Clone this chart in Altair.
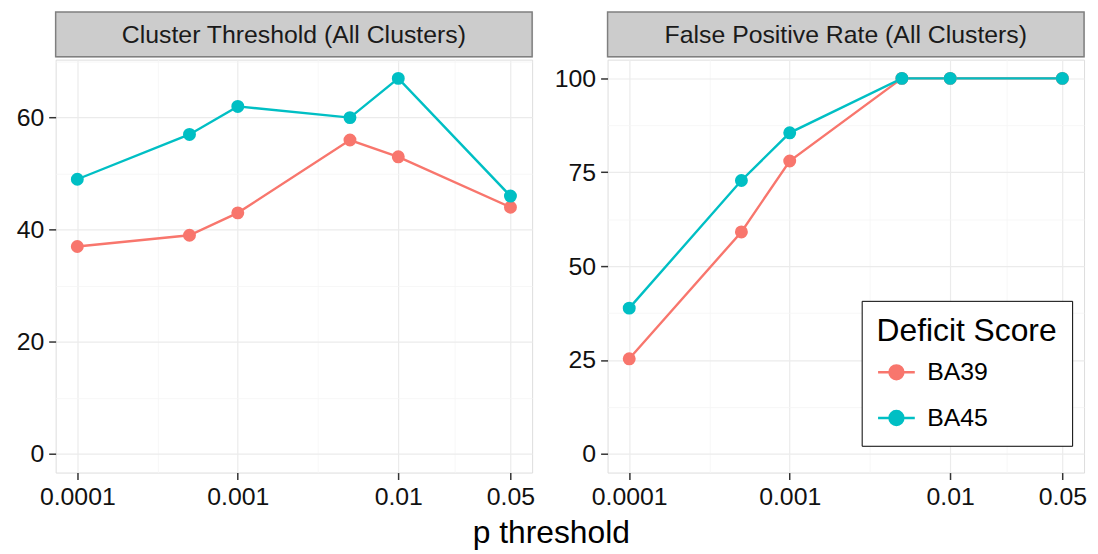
import altair as alt
import pandas as pd

p_values = [0.0001, 0.0005, 0.001, 0.005, 0.01, 0.05]
groups = ["BA39", "BA45"]
thresh_ba39 = [37, 39, 43, 56, 53, 44]
thresh_ba45 = [49, 57, 62, 60, 67, 46]
fpr_ba39 = [25.3, 59.1, 78.0, 100, 100, 100]
fpr_ba45 = [38.8, 72.8, 85.5, 100, 100, 100]
panel_titles = ["Cluster Threshold (All Clusters)", "False Positive Rate (All Clusters)"]
colors = ["#F8766D", "#00BFC4"]

x_major = [0.0001, 0.001, 0.01, 0.05]
x_minor = [0.000316228, 0.00316228, 0.0223607]
x_domain = [10 ** -4.135, 10 ** -1.166]
y1_major = [0, 20, 40, 60]
y1_minor = [10, 30, 50, 70]
y1_domain = [-3.35, 70.35]
y2_major = [0, 25, 50, 75, 100]
y2_minor = [12.5, 37.5, 62.5, 87.5]
y2_domain = [-5, 105]

FONT = "Liberation Sans"
W, H, SH = 480, 416, 45


def long_df(a, b):
    rows = []
    for g, vals in zip(groups, [a, b]):
        for p, v in zip(p_values, vals):
            rows.append({"p": p, "value": v, "group": g})
    return pd.DataFrame(rows)


def cond(majors, on, off):
    test = "indexof([" + ",".join(str(m) for m in majors) + "], datum.value) >= 0"
    return {"condition": {"test": test, "value": on}, "value": off}


def label_expr(majors):
    return "indexof([" + ",".join(str(m) for m in majors) + "], datum.value) >= 0 ? '' + datum.value : ''"


sym_path = "M-1,0H1M0.38,0A0.38,0.38,0,1,1,-0.38,0A0.38,0.38,0,1,1,0.38,0Z"

legend = alt.Legend(
    title="Deficit Score",
    orient="none",
    legendX=812,
    legendY=291,
    symbolType=sym_path,
    symbolSize=1369,
    symbolStrokeWidth=2.4,
    symbolOpacity=1,
    labelOffset=11,
    padding=15,
    rowPadding=13,
    titleFontSize=32,
    titleFont=FONT,
    titleFontWeight="normal",
    titleColor="#000000",
    titlePadding=5,
    titleLimit=400,
    labelFontSize=25,
    labelFont=FONT,
    labelColor="#000000",
    strokeColor="#000000",
    fillColor="#FFFFFF",
    cornerRadius=0,
)


def axis(majors, minors, title=None):
    return alt.Axis(
        values=majors + minors,
        labelExpr=label_expr(majors),
        title=title,
        domain=False,
        tickSize=7,
        tickWidth=1.5,
        tickColor="#333333",
        tickOpacity=cond(majors, 1, 0),
        gridColor=cond(majors, "#EBEBEB", "#F5F5F5"),
        gridWidth=cond(majors, 1.2, 0.8),
        labelFont=FONT,
        labelFontSize=25,
        labelColor="#111111",
        labelPadding=5,
    )


def panel(df, ymaj, ymin, ydom):
    base = alt.Chart(df).encode(
        x=alt.X("p:Q", scale=alt.Scale(type="log", domain=x_domain, nice=False),
                axis=axis(x_major, x_minor)),
        y=alt.Y("value:Q", scale=alt.Scale(domain=ydom, nice=False, zero=False),
                axis=axis(ymaj, ymin)),
        color=alt.Color("group:N", scale=alt.Scale(domain=groups, range=colors), legend=legend),
    )
    lines = base.mark_line(strokeWidth=2.4)
    pts = base.mark_point(filled=True, size=170, opacity=1)
    return (lines + pts).properties(width=W, height=H)


def strip(title):
    b = alt.Chart(pd.DataFrame({"t": [title]}))
    rect = b.mark_rect(fill="#CCCCCC", stroke="#7F7F7F", strokeWidth=1.5).encode(
        x=alt.value(0), x2=alt.value(W), y=alt.value(0), y2=alt.value(SH))
    txt = b.mark_text(fontSize=25, font=FONT, color="#1A1A1A", baseline="middle", align="center").encode(
        text="t:N", x=alt.value(W / 2), y=alt.value(SH / 2 + 1))
    return (rect + txt).properties(width=W, height=SH)


left = alt.vconcat(strip(panel_titles[0]), panel(long_df(thresh_ba39, thresh_ba45), y1_major, y1_minor, y1_domain), spacing=0)
right = alt.vconcat(strip(panel_titles[1]), panel(long_df(fpr_ba39, fpr_ba45), y2_major, y2_minor, y2_domain), spacing=0)

chart = alt.hconcat(left, right, spacing=18).properties(
    title=alt.TitleParams("p threshold", orient="bottom", anchor="middle", fontSize=32,
                          font=FONT, fontWeight="normal", color="#000000", offset=8),
    padding={"left": 7, "top": 0, "right": 3, "bottom": 0},
).configure_view(stroke="#7F7F7F", strokeWidth=1.5).configure_legend(
    strokeWidth=2
).configure(background="#FFFFFF")

chart.save("out.html", embed_options={"renderer": "svg", "actions": False})
